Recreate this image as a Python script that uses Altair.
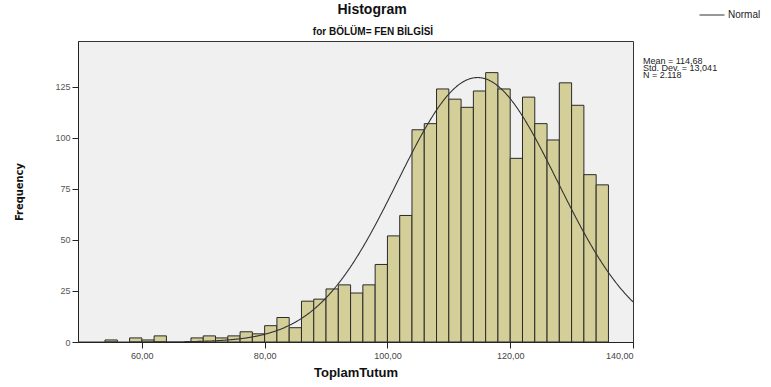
import altair as alt
import pandas as pd

# Histogram of ToplamTutum for BÖLÜM = FEN BİLGİSİ, bins of width 2
bin_start = [54, 58, 60, 62,
             68, 70, 72, 74, 76, 78,
             80, 82, 84, 86, 88, 90, 92, 94, 96, 98,
             100, 102, 104, 106, 108, 110, 112, 114, 116, 118,
             120, 122, 124, 126, 128, 130, 132, 134]
counts = [1, 2, 1, 3,
          2, 3, 2, 3, 5, 4,
          8, 12, 7, 20, 21, 26, 28, 24, 28, 38,
          52, 62, 104, 107, 124, 119, 115, 123, 132, 124,
          90, 120, 107, 99, 127, 116, 82, 77]
bin_width = 2

# Summary statistics shown beside the plot
mean_val = 114.68
std_val = 13.041
n_val = 2118
stats_lines = ["Mean = 114,68", "Std. Dev. = 13,041", "N = 2.118"]

title_text = "Histogram"
subtitle_text = "for BÖLÜM= FEN BİLGİSİ"

x_ticks = [60, 80, 100, 120, 140]
y_ticks = [0, 25, 50, 75, 100, 125]
x_domain = [49.6, 140]
y_domain = [0, 147.5]

bars_df = pd.DataFrame({
    "start": bin_start,
    "end": [s + bin_width for s in bin_start],
    "count": counts,
})

FONT = "Liberation Sans, Arial, sans-serif"
NARROW = "DejaVu Sans Condensed, Liberation Sans, sans-serif"
PW, PH = 555, 301

x_scale = alt.Scale(domain=x_domain, nice=False, zero=False)
y_scale = alt.Scale(domain=y_domain, nice=False)

x_axis = alt.Axis(
    values=x_ticks, labelExpr="replace(format(datum.value, '.2f'), '.', ',')",
    title="ToplamTutum", titleFont=FONT, titleFontSize=13, titleFontWeight="bold",
    titleColor="#111", titlePadding=6, labelFont=FONT, labelFontSize=9,
    labelColor="#444", labelPadding=3, tickSize=6, tickColor="#222",
    domainColor="#222", grid=False,
)
y_axis = alt.Axis(
    values=y_ticks, title="Frequency", titleFont=NARROW,
    titleFontSize=11, titleFontWeight="bold", titleColor="#111", titlePadding=30,
    labelFont=FONT, labelFontSize=9, labelColor="#555", labelPadding=2,
    tickSize=6, tickColor="#222", domainColor="#222", grid=False,
)

bars = alt.Chart(bars_df).mark_rect(
    fill="#D4CF98", stroke="#2a2a2a", strokeWidth=1
).encode(
    x=alt.X("start:Q", scale=x_scale, axis=x_axis),
    x2="end:Q",
    y=alt.Y("count:Q", scale=y_scale, axis=y_axis),
    y2=alt.datum(0),
)

# Fitted normal curve scaled to counts per bin
curve = alt.Chart(alt.sequence(49.6, 140.05, 0.1, as_="x")).transform_calculate(
    freq=f"{n_val} * {bin_width} * densityNormal(datum.x, {mean_val}, {std_val})",
    series="'Normal'",
).mark_line(strokeWidth=1.1, clip=True).encode(
    x=alt.X("x:Q", scale=x_scale),
    y=alt.Y("freq:Q", scale=y_scale),
    color=alt.Color(
        "series:N",
        scale=alt.Scale(range=["#333333"]),
        legend=alt.Legend(
            orient="none", legendX=PW + 66, legendY=-39, title=None,
            symbolType="stroke", symbolSize=625, symbolStrokeWidth=1,
            labelFont=FONT, labelFontSize=10, labelColor="#222", labelOffset=3,
        ),
    ),
)

stats = alt.Chart(pd.DataFrame({"t": ["\n".join(stats_lines)]})).mark_text(
    align="left", baseline="top", font=FONT, fontSize=9, lineHeight=7,
    color="#222", lineBreak="\n",
).encode(
    x=alt.value(PW + 10), y=alt.value(16), text="t:N",
)

# Chart heading drawn as text above the plot frame
heading = alt.Chart(pd.DataFrame({"t": [title_text]})).mark_text(
    align="center", baseline="middle", font=FONT, fontSize=14,
    fontWeight="bold", color="#111",
).encode(x=alt.value(294), y=alt.value(-31), text="t:N")

subheading = alt.Chart(pd.DataFrame({"t": [subtitle_text]})).mark_text(
    align="center", baseline="middle", font=FONT, fontSize=10,
    fontWeight="bold", color="#111",
).encode(x=alt.value(295), y=alt.value(-9), text="t:N")

chart = alt.layer(bars, curve, stats, heading, subheading).properties(
    width=PW, height=PH,
    autosize=alt.AutoSizeParams(type="none"),
    padding={"left": 78, "top": 41, "right": 138, "bottom": 45},
    background="white",
).configure_view(
    fill="#F0F0F0", stroke="#333333", strokeWidth=1,
)

chart.save("out.html", embed_options={"renderer": "svg", "actions": False})
